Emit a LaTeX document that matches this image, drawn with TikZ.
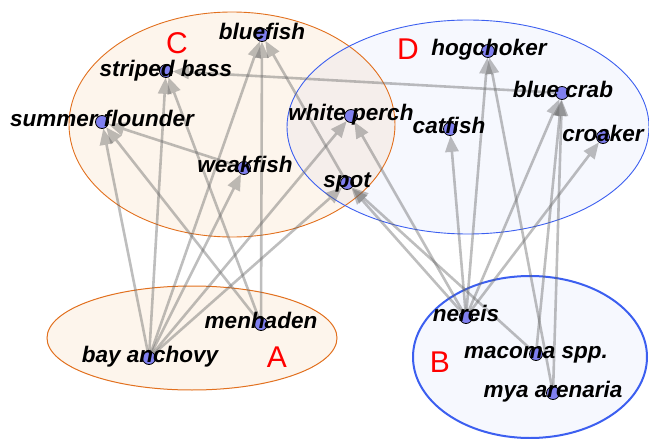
\documentclass[tikz,border=0pt]{standalone}
\usepackage{fontspec}
\setmainfont{Liberation Sans}
\usetikzlibrary{arrows.meta}
\definecolor{peach}{RGB}{253,245,236}
\definecolor{paleblue}{RGB}{246,248,254}
\definecolor{overlapc}{RGB}{245,238,235}
\definecolor{orangeline}{RGB}{226,112,30}
\definecolor{blueline}{RGB}{60,95,240}
\definecolor{dotblue}{RGB}{128,128,240}
\definecolor{edgegray}{RGB}{100,100,100}
\tikzset{
  dot/.style={circle, fill=dotblue, draw=black, line width=0.8pt, minimum size=13pt, inner sep=0pt},
  lbl/.style={anchor=base, inner sep=0pt, font=\fontsize{22.5}{24}\selectfont\bfseries\itshape},
  grp/.style={inner sep=0pt, text=red, font=\fontsize{30}{32}\selectfont},
  eat/.style={draw=edgegray, draw opacity=0.42, fill opacity=0.42, line width=2.6pt,
    -{Triangle[length=16pt,width=14pt,line width=0pt,fill=edgegray]}},
}
\begin{document}
\begin{tikzpicture}[x=1pt,y=-1pt]
\useasboundingbox (0,0) rectangle (649,439);
% group ellipses
\fill[peach] (192,338) ellipse [x radius=145pt, y radius=52pt];
\draw[orangeline, line width=1pt] (192,338) ellipse [x radius=145pt, y radius=52pt];
\fill[paleblue] (530,357) ellipse [x radius=117pt, y radius=81pt];
\draw[blueline, line width=2pt] (530,357) ellipse [x radius=117pt, y radius=81pt];
\fill[peach] (232,124.5) ellipse [x radius=163pt, y radius=112.5pt];
\fill[paleblue] (468,127) ellipse [x radius=181pt, y radius=107pt];
\begin{scope}
  \clip (232,124.5) ellipse [x radius=163pt, y radius=112.5pt];
  \fill[overlapc] (468,127) ellipse [x radius=181pt, y radius=107pt];
\end{scope}
\draw[orangeline, line width=0.9pt] (232,124.5) ellipse [x radius=163pt, y radius=112.5pt];
\draw[blueline, line width=0.9pt] (468,127) ellipse [x radius=181pt, y radius=107pt];
% group letters
\node[grp] (labA) at (277,357) {A};
\node[grp] (labB) at (440,362) {B};
\node[grp] (labC) at (177,43) {C};
\node[grp] (labD) at (408,49) {D};
% species dots
\node[dot] (bf) at (262,35) {};
\node[dot] (sb) at (166,71) {};
\node[dot] (sf) at (102,122) {};
\node[dot] (wf) at (244,168) {};
\node[dot] (wp) at (351,116) {};
\node[dot] (sp) at (347,183) {};
\node[dot] (hc) at (488,51) {};
\node[dot] (bc) at (562,93) {};
\node[dot] (cf) at (450,129) {};
\node[dot] (cr) at (603,137) {};
\node[dot] (mh) at (261,324) {};
\node[dot] (ba) at (149,358) {};
\node[dot] (nr) at (466,317) {};
\node[dot] (mc) at (536,354) {};
\node[dot] (my) at (553,393) {};
% feeding links (prey -> predator)
\draw[eat] (ba) -- (sf);
\draw[eat] (ba) -- (sb);
\draw[eat] (ba) -- (bf);
\draw[eat] (ba) -- (wf);
\draw[eat] (ba) -- (wp);
\draw[eat] (ba) -- (sp);
\draw[eat] (mh) -- (bf);
\draw[eat] (mh) -- (sb);
\draw[eat] (mh) -- (sf);
\draw[eat] (wf) -- (sf);
\draw[eat] (bc) -- (sb);
\draw[eat] (sp) -- (bf);
\draw[eat] (nr) -- (wp);
\draw[eat] (nr) -- (sp);
\draw[eat] (nr) -- (cf);
\draw[eat] (nr) -- (hc);
\draw[eat] (nr) -- (bc);
\draw[eat] (nr) -- (cr);
\draw[eat] (mc) -- (sp);
\draw[eat] (mc) -- (bc);
\draw[eat] (my) -- (bc);
\draw[eat] (my) -- (hc);
% species names
\node[lbl] (bf-t) at (262,39.5) {bluefish};
\node[lbl] (sb-t) at (166,76) {striped bass};
\node[lbl] (sf-t) at (102,126.5) {summer flounder};
\node[lbl] (wf-t) at (245,172) {weakfish};
\node[lbl] (wp-t) at (351,120.5) {white perch};
\node[lbl] (sp-t) at (347,187.5) {spot};
\node[lbl] (hc-t) at (489,55.5) {hogchoker};
\node[lbl] (bc-t) at (563,97.5) {blue crab};
\node[lbl] (cf-t) at (449,133.5) {catfish};
\node[lbl] (cr-t) at (603,141.5) {croaker};
\node[lbl] (mh-t) at (261,328.5) {menhaden};
\node[lbl] (ba-t) at (150,362.5) {bay anchovy};
\node[lbl] (nr-t) at (466,321.5) {nereis};
\node[lbl] (mc-t) at (536,358.5) {macoma spp.};
\node[lbl] (my-t) at (553,397.5) {mya arenaria};
\end{tikzpicture}
\end{document}
